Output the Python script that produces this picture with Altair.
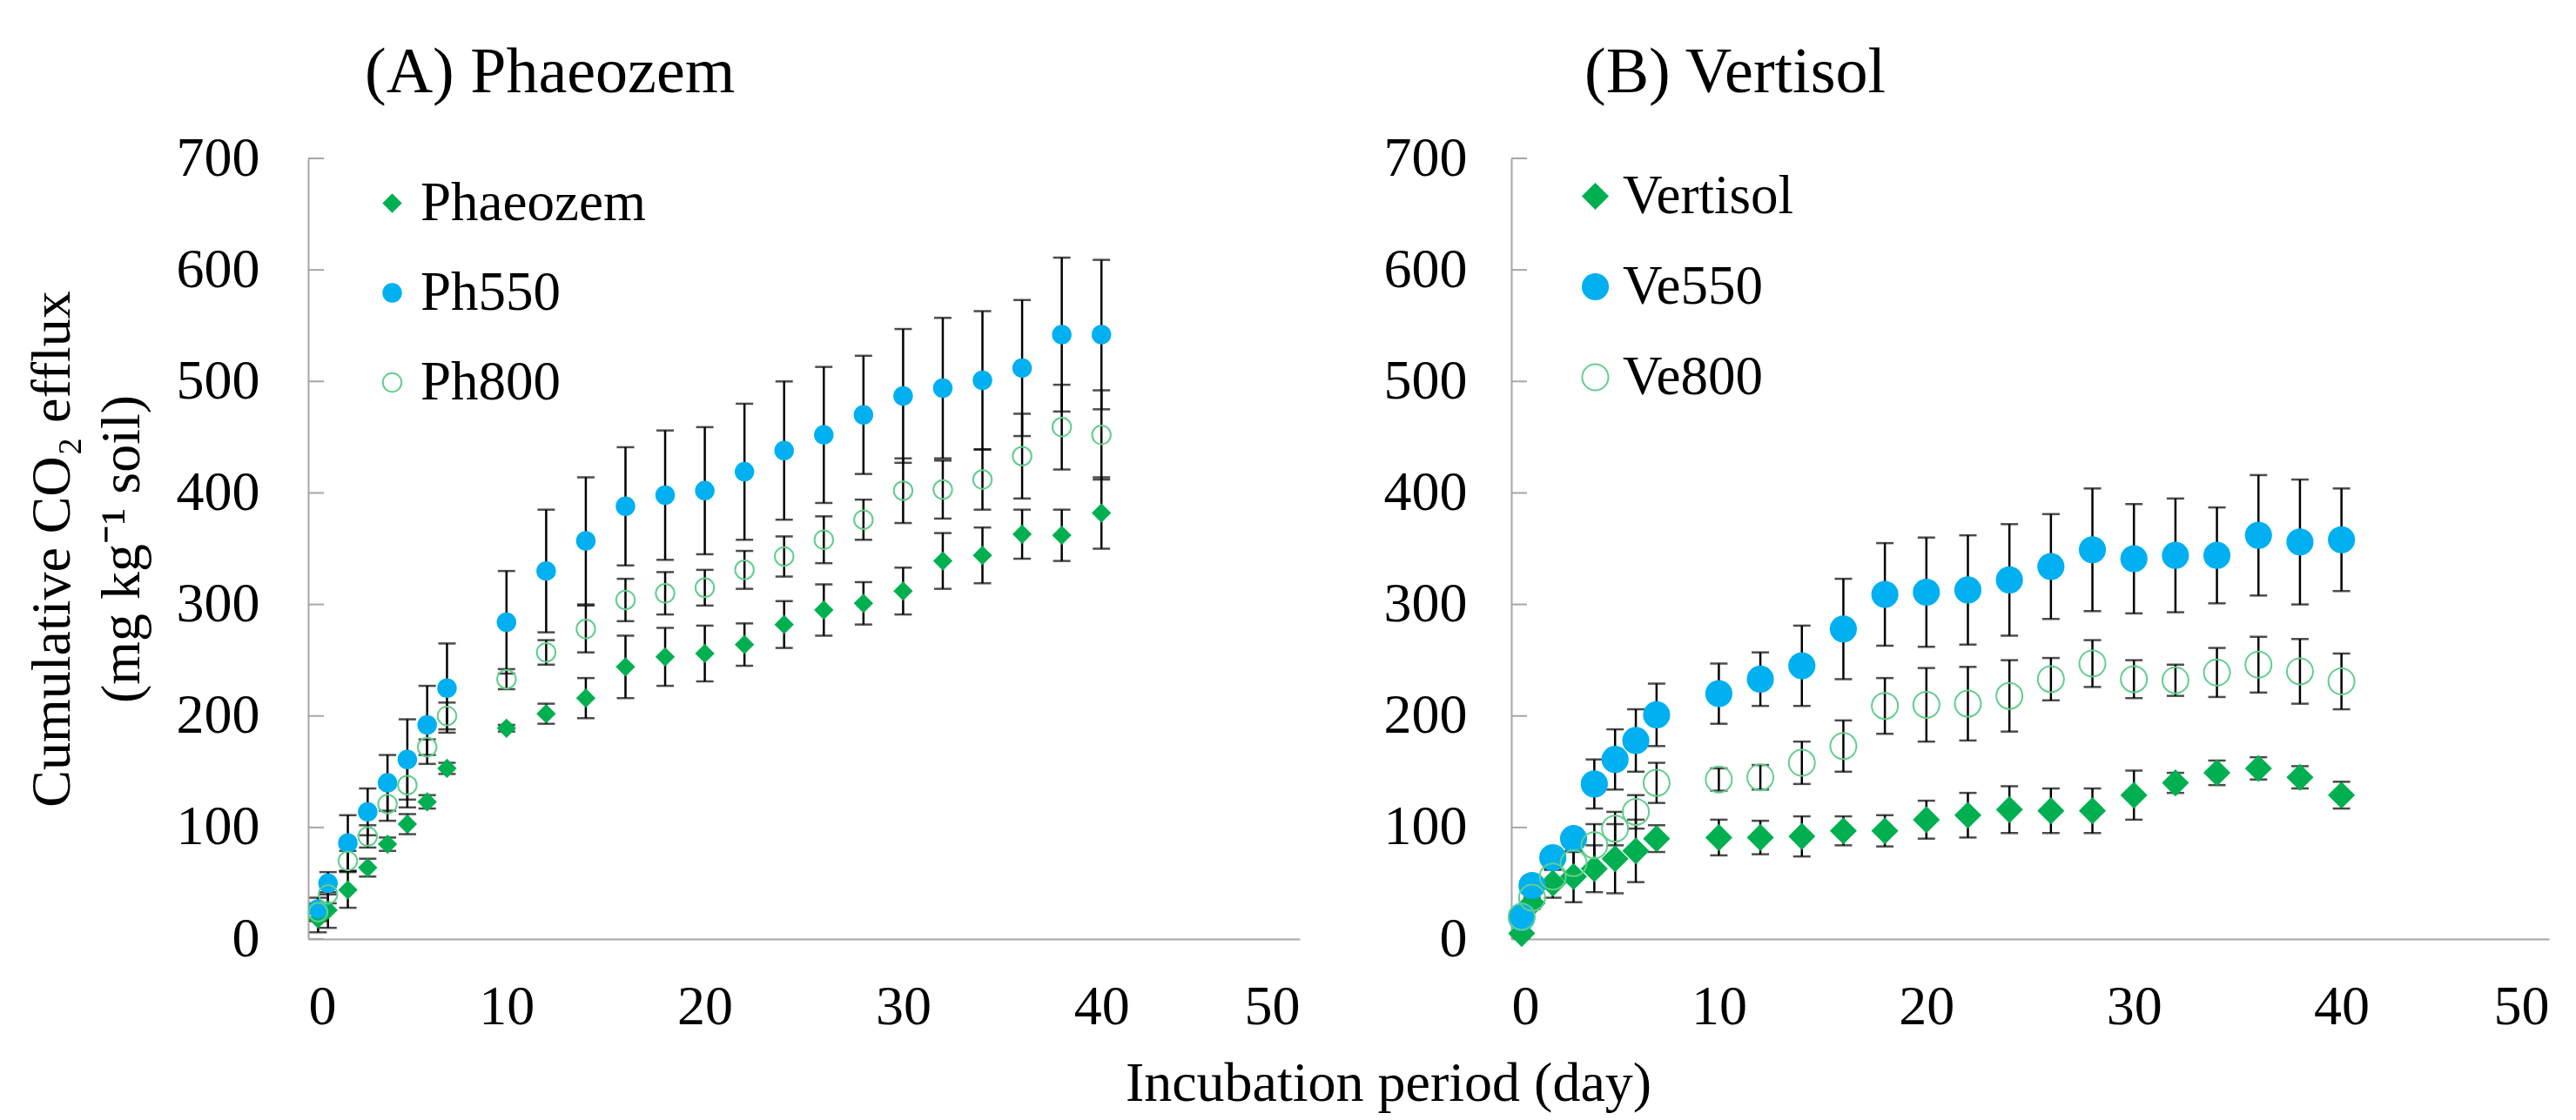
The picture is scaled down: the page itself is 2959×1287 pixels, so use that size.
import altair as alt
import pandas as pd

days = [0.5, 1, 2, 3, 4, 5, 6, 7, 10, 12, 14, 16, 18, 20, 22, 24, 26, 28, 30, 32, 34, 36, 38, 40]

# Panel A - Phaeozem
ph_names = ["Phaeozem", "Ph550", "Ph800"]
ph_mean = [18, 26, 44, 64, 85, 103, 123, 153, 189, 202, 216, 244, 253, 256, 264, 282, 295, 301, 312, 339, 344, 363, 362, 382]
ph_err = [12, 16, 16, 8, 6, 9, 6, 5, 3, 9, 18, 28, 26, 25, 19, 21, 23, 19, 21, 25, 25, 22, 23, 32]
ph550_mean = [27, 50, 86, 114, 140, 161, 192, 225, 284, 330, 357, 388, 398, 402, 419, 438, 452, 470, 487, 494, 501, 512, 542, 542]
ph550_err = [10, 10, 25, 21, 25, 36, 35, 40, 46, 55, 57, 53, 58, 57, 61, 62, 61, 53, 60, 63, 62, 61, 69, 67]
ph800_mean = [24, 40, 70, 92, 121, 138, 172, 200, 233, 257, 278, 304, 310, 315, 331, 343, 358, 376, 402, 403, 412, 433, 459, 452]
ph800_err = [8, 8, 9, 10, 15, 20, 7, 12, 9, 11, 21, 19, 19, 16, 17, 18, 21, 18, 29, 26, 27, 38, 38, 40]

# Panel B - Vertisol
ve_names = ["Vertisol", "Ve550", "Ve800"]
ve_mean = [5, 32, 50, 56, 63, 72, 79, 90, 91, 91, 92, 97, 97, 107, 111, 116, 115, 115, 129, 140, 149, 153, 145, 129]
ve_err = [4, 5, 13, 23, 21, 31, 28, 12, 16, 15, 18, 13, 14, 17, 20, 21, 20, 20, 22, 9, 11, 10, 10, 12]
ve550_mean = [19, 48, 73, 90, 139, 161, 178, 201, 220, 233, 245, 278, 309, 311, 313, 322, 334, 349, 341, 344, 344, 362, 356, 358]
ve550_err = [5, 5, 8, 8, 22, 27, 28, 28, 27, 24, 36, 45, 46, 49, 49, 50, 47, 55, 49, 51, 43, 54, 56, 46]
ve800_mean = [20, 37, 56, 68, 84, 99, 114, 140, 143, 145, 158, 173, 209, 210, 211, 218, 233, 247, 233, 232, 239, 246, 240, 231]
ve800_err = [5, 5, 6, 10, 19, 15, 15, 18, 10, 11, 19, 23, 25, 33, 33, 32, 19, 21, 17, 14, 22, 25, 29, 25]

y_ticks = [0, 100, 200, 300, 400, 500, 600, 700]
x_ticks = [0, 10, 20, 30, 40, 50]

FONT = "Liberation Serif"
GRAY = "#a6a6a6"
GREEN = "#00b050"
BLUE = "#00b0f0"
LIGHT = "#62ce8c"


def long_df(names, means, errs):
    rows = []
    for name, m, e in zip(names, means, errs):
        for d, v, s in zip(days, m, e):
            rows.append({"day": d, "series": name, "mean": v, "lo": v - s, "hi": v + s})
    return pd.DataFrame(rows)


def panel(names, means, errs, title, title_dx, width, sizes, leg_x, leg_y, leg_off,
          leg_pad, ylab_pad, ytitle):
    df = long_df(names, means, errs)
    xs = alt.Scale(domain=[0, 50], nice=False)
    ys = alt.Scale(domain=[0, 700], nice=False)
    xaxis = alt.Axis(values=x_ticks, title=None, grid=False, ticks=False,
                     domainColor=GRAY, domainWidth=2, labelPadding=46)
    yaxis = alt.Axis(values=y_ticks, title=ytitle, grid=False, ticks=False,
                     domainColor=GRAY, domainWidth=2, labelPadding=ylab_pad,
                     titleLineHeight=80, titlePadding=30, titleFontSize=64)
    base = alt.Chart(df)
    bars = base.mark_rule(color="black", strokeWidth=2.5).encode(
        x=alt.X("day:Q", scale=xs, axis=xaxis),
        y=alt.Y("lo:Q", scale=ys, axis=yaxis),
        y2="hi:Q",
    )
    cap_lo = base.mark_tick(color="black", orient="horizontal", size=20, thickness=2.5).encode(
        x="day:Q", y="lo:Q")
    cap_hi = base.mark_tick(color="black", orient="horizontal", size=20, thickness=2.5).encode(
        x="day:Q", y="hi:Q")
    leg = alt.Legend(orient="none", legendX=leg_x, legendY=leg_y, title=None,
                     labelFont=FONT, labelFontSize=63, labelOffset=leg_off, labelLimit=0,
                     rowPadding=leg_pad, padding=0, symbolStrokeWidth=2)
    pts = base.mark_point(filled=True, opacity=1, strokeWidth=2).encode(
        x="day:Q",
        y="mean:Q",
        shape=alt.Shape("series:N", sort=names,
                        scale=alt.Scale(domain=names, range=["diamond", "circle", "circle"]), legend=leg),
        fill=alt.Fill("series:N", sort=names,
                      scale=alt.Scale(domain=names, range=[GREEN, BLUE, "transparent"]), legend=leg),
        stroke=alt.Stroke("series:N", sort=names,
                          scale=alt.Scale(domain=names, range=[GREEN, BLUE, LIGHT]), legend=leg),
        size=alt.Size("series:N", sort=names,
                      scale=alt.Scale(domain=names, range=sizes), legend=leg),
    )
    tick_df = pd.DataFrame({"yt": y_ticks})
    inner_ticks = alt.Chart(tick_df).mark_rule(color=GRAY, strokeWidth=2).encode(
        y=alt.Y("yt:Q", scale=ys), x=alt.value(0), x2=alt.value(18))
    return alt.layer(inner_ticks, bars, cap_lo, cap_hi, pts).properties(
        width=width, height=897,
        title=alt.TitleParams(title, anchor="start", dx=title_dx, frame="group",
                              fontSize=74, font=FONT, fontWeight="normal", offset=28),
    )


pA = panel(ph_names, [ph_mean, ph550_mean, ph800_mean], [ph_err, ph550_err, ph800_err],
           "(A) Phaeozem", 65, 1139, [380, 460, 380], 65, 20, 1, 39, 56,
           ["Cumulative CO\u2082 efflux", "(mg kg\u207b\u00b9 soil)"])
pB = panel(ve_names, [ve_mean, ve550_mean, ve800_mean], [ve_err, ve550_err, ve800_err],
           "(B) Vertisol", 84, 1192, [800, 900, 850], 65, 12, 0, 40, 51, None)

chart = alt.hconcat(pA, pB, spacing=96).resolve_scale(
    shape="independent", fill="independent", stroke="independent", size="independent",
).resolve_legend(
    shape="independent", fill="independent", stroke="independent", size="independent",
).properties(
    title=alt.TitleParams("Incubation period (day)", orient="bottom", anchor="middle",
                          fontSize=64, font=FONT, fontWeight="normal", offset=25, dx=117),
    padding={"left": 20, "top": 39, "right": 5, "bottom": 5},
).configure_view(stroke=None).configure_axis(
    labelFont=FONT, labelFontSize=64, labelColor="black",
    titleFont=FONT, titleFontSize=64, titleFontWeight="normal", titleColor="black",
).configure_title(color="black")

chart.save("out.html", embed_options={"renderer": "svg", "actions": False})
